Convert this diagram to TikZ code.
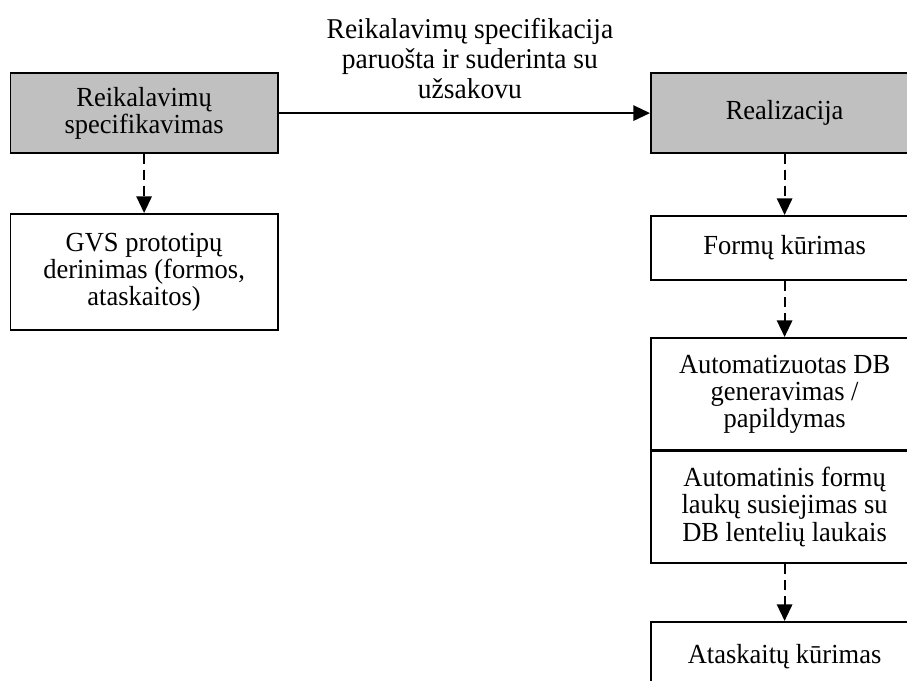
\documentclass[tikz,border=0pt]{standalone}
\usepackage{fontspec}
\setmainfont{Liberation Serif}
% slightly condensed serif so the glyphs sit tall and narrow
\newfontfamily\tallserif[FakeStretch=0.96]{Liberation Serif}
\usetikzlibrary{arrows.meta}
\definecolor{phasegray}{RGB}{192,192,192}
\begin{document}
\begin{tikzpicture}[x=0.75pt,y=-0.75pt,
  box/.style={draw=black,line width=1.4pt,minimum width=200.5pt,align=center,
    font=\tallserif\fontsize{20.7}{20.3}\selectfont,inner sep=0pt,anchor=north west},
  phase/.style={box,fill=phasegray},
  flow/.style={line width=1.5pt,-{Triangle[length=12.5pt,width=11.5pt]}},
  sub/.style={flow,dash pattern=on 7.5pt off 4.5pt}]
\useasboundingbox (0,0) rectangle (907,681);
\clip (0,0) rectangle (907,681);
% top row: phases
\node[phase,minimum height=59.5pt] (spec) at (9.5,72.5)
  {Reikalavimų\\specifikavimas};
\node[phase,minimum height=59.5pt] (real) at (650,72.5) {Realizacija};
% left column
\node[box,minimum height=87pt] (gvs) at (9.5,213)
  {GVS prototipų\\derinimas (formos,\\ataskaitos)};
% right column
\node[box,minimum height=48pt] (form) at (650,215) {Formų kūrimas};
\node[box,minimum height=84pt] (db) at (650,337)
  {Automatizuotas DB\\generavimas /\\papildymas};
\node[box,minimum height=84pt] (link) at (650,450)
  {Automatinis formų\\laukų susiejimas su\\DB lentelių laukais};
\node[box,minimum height=52pt] (rep) at (650,621) {Ataskaitų kūrimas};
% connectors
\draw[flow] (spec.east) -- (real.west)
  node[pos=0.515,above=7pt,align=center,font=\tallserif\fontsize{21.5}{22.5}\selectfont]
  {Reikalavimų specifikacija\\paruošta ir suderinta su\\užsakovu};
\draw[sub] (spec.south) -- (gvs.north);
\draw[sub] (real.south) -- (form.north);
\draw[sub] (form.south) -- (db.north);
\draw[sub] (link.south) -- (rep.north);
\end{tikzpicture}
\end{document}
